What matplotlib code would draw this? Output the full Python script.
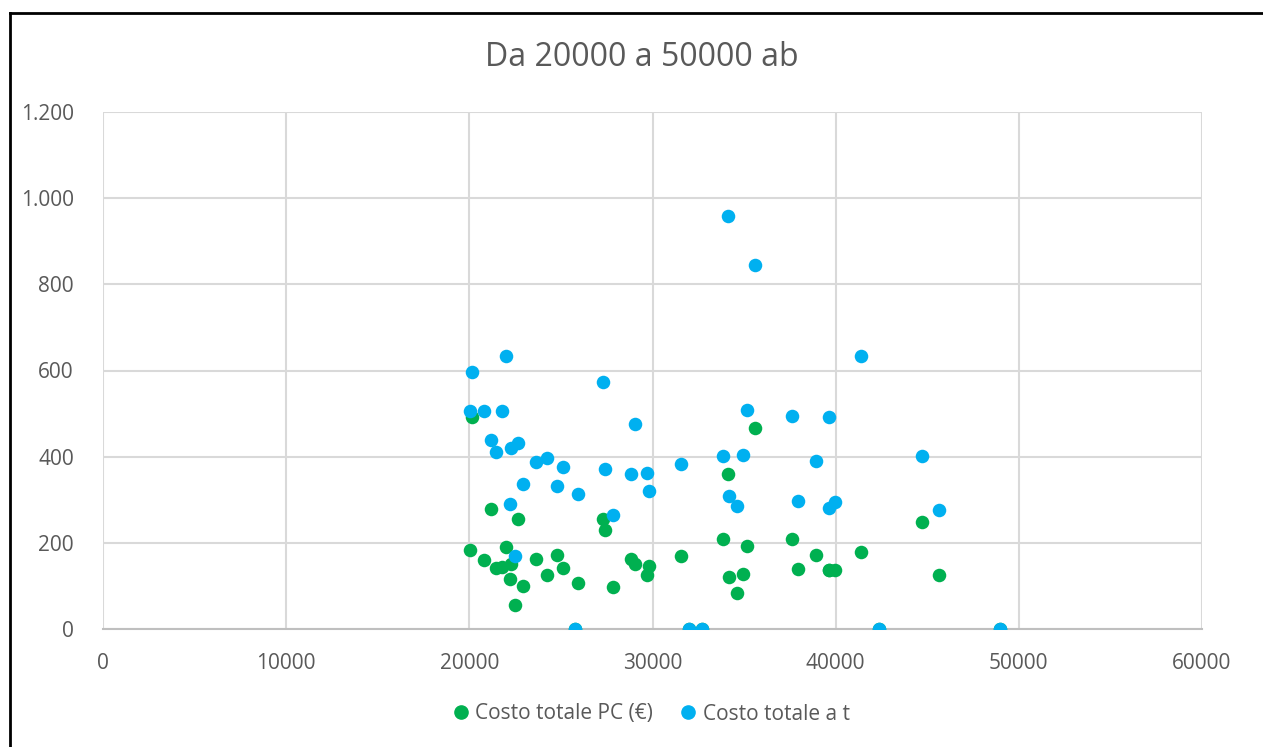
import matplotlib.pyplot as plt
from matplotlib.lines import Line2D
from matplotlib.ticker import FuncFormatter

# abitanti (x) e costi per comune
abitanti = [20036, 20164, 20817, 21165, 21440, 21810, 22002, 22220, 22276, 22511,
            22640, 22913, 23620, 24250, 24795, 25093, 25769, 25915, 27315, 27387,
            27870, 28840, 29070, 29697, 29835, 31573, 31997, 32690, 33827, 34097,
            34170, 34607, 34935, 35145, 35570, 37615, 37955, 38919, 39617, 39635,
            39981, 41379, 42368, 44740, 45635, 48990]
costo_pc = [183, 493, 160, 279, 142, 145, 190, 117, 152, 56,
            255, 100, 163, 125, 172, 142, 0, 107, 255, 229,
            98, 163, 152, 125, 146, 170, 0, 0, 208, 360,
            121, 83, 128, 193, 467, 208, 139, 172, 136, 136,
            136, 179, 0, 248, 125, 0]
costo_t = [506, 596, 506, 438, 411, 506, 634, 289, 420, 170,
           432, 336, 387, 396, 333, 375, 0, 313, 574, 371,
           265, 360, 476, 363, 321, 384, 0, 0, 402, 959,
           309, 286, 405, 509, 846, 494, 298, 390, 282, 491,
           295, 634, 0, 402, 277, 0]

GREEN = '#00B050'
BLUE = '#00B0F0'
GRAY_TXT = '#595959'

plt.rcParams['font.family'] = ['Open Sans', 'DejaVu Sans']

fig = plt.figure(figsize=(12.63, 7.47), dpi=100)
ax = fig.add_axes([103 / 1263, 1 - 629 / 747, 1099 / 1263, 517 / 747])

ax.scatter(abitanti, costo_pc, s=95, color=GREEN, zorder=3, linewidths=0)
ax.scatter(abitanti, costo_t, s=95, color=BLUE, zorder=4, linewidths=0)

ax.set_xlim(0, 60000)
ax.set_ylim(0, 1200)
ax.set_xticks(range(0, 60001, 10000))
ax.set_yticks(range(0, 1201, 200))
ax.yaxis.set_major_formatter(FuncFormatter(lambda v, p: f'{int(v):,}'.replace(',', '.')))
ax.grid(True, color='#d9d9d9', linewidth=1.5, zorder=0)
ax.set_axisbelow(True)
for s in ax.spines.values():
    s.set_visible(False)
ax.spines['bottom'].set_visible(True)
ax.spines['bottom'].set_color('#bfbfbf')
ax.spines['bottom'].set_linewidth(1.5)
ax.tick_params(length=0, labelsize=15, labelcolor=GRAY_TXT)
ax.tick_params(axis='x', pad=17)
ax.tick_params(axis='y', pad=21)

fig.text(642 / 1263, 1 - 58 / 747, 'Da 20000 a 50000 ab', ha='center', va='center',
         fontsize=23, color=GRAY_TXT)

handles = [Line2D([], [], marker='o', ls='', color=GREEN, markersize=9.5),
           Line2D([], [], marker='o', ls='', color=BLUE, markersize=9.5)]
fig.legend(handles, ['Costo totale PC (€)', 'Costo totale a t'], loc='center',
           bbox_to_anchor=(648 / 1263, 1 - 714 / 747), ncol=2, frameon=False,
           fontsize=15, labelcolor=GRAY_TXT, handletextpad=0.0, columnspacing=1.0,
           handlelength=1.4)

# cornice esterna (solo sinistra e alto visibili)
fig.add_artist(Line2D([10 / 1263, 10 / 1263], [0, 1 - 13 / 747], color='black', lw=2,
                      transform=fig.transFigure))
fig.add_artist(Line2D([10 / 1263, 1], [1 - 13 / 747, 1 - 13 / 747], color='black', lw=2,
                      transform=fig.transFigure))

fig.savefig('out.png', dpi=100)
